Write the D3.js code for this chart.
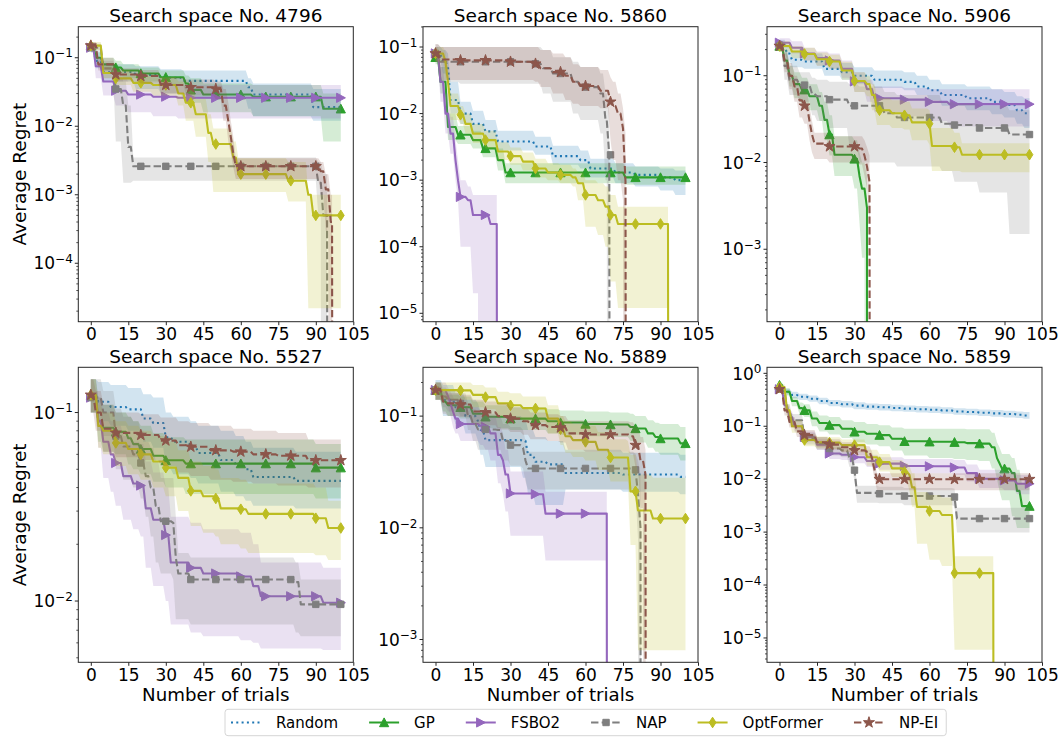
<!DOCTYPE html>
<html><head><meta charset="utf-8">
<script src="https://cdn.jsdelivr.net/npm/d3@7"></script>
<style>body{margin:0;background:#fff} svg text{font-family:"DejaVu Sans",sans-serif;fill:#000}</style>
</head><body><svg id="c" width="1063" height="738"></svg>
<script>
// ---------- data ----------
const methods = ["Random","GP","FSBO2","NAP","OptFormer","NP-EI"];
const panelIds = [4796, 5860, 5906, 5527, 5889, 5859];
const yExtents = [[-4.853,-0.547],[-5.126,-0.695],[-3.835,-0.435],[-2.325,-0.76],[-3.204,-0.563],[-5.46,0.114]];
const yTickExps = [[-1,-2,-3,-4],[-1,-2,-3,-4,-5],[-1,-2,-3],[-1,-2],[-1,-2,-3],[0,-1,-2,-3,-4,-5]];
const xTicks = [0,15,30,45,60,75,90,105];
const xDomain = [-5,105];
const markerTrials = [0,10,20,30,40,50,60,70,80,90,100];
// each series: [trial, mean, lower, upper] change points (step curve); 0 = regret reached zero

const s4796 = {
 Random:[[0,.14,.12,.165],[2,.09,.07,.12],[5,.062,.045,.08],[18,.056,.035,.075],[28,.051,.03,.068],[37,.046,.025,.065],[63,.037,.018,.05],[65,.029,.014,.042],[89,.019,.012,.035]],
 GP:[[0,.15,.13,.17],[2,.1,.08,.12],[5,.08,.065,.1],[10,.072,.058,.09],[13,.065,.05,.08],[20,.059,.045,.072],[28,.052,.04,.065],[38,.042,.03,.055],[40,.034,.022,.05],[45,.029,.016,.042],[65,.027,.014,.04],[93,.018,.006,.03]],
 FSBO2:[[0,.14,.12,.16],[2,.075,.05,.1],[5,.045,.028,.07],[10,.033,.02,.05],[15,.029,.016,.045],[25,.027,.014,.042],[35,.026,.013,.04]],
 NAP:[[0,.14,.12,.16],[5,.07,.05,.09],[10,.035,.006,.06],[13,.02,.0015,.045],[15,.005,.0015,.02],[17,.0026,.0016,.0035],[91,.0015,.0005,.003],[93,.0005,0,.002],[95.5,0,0,0]],
 OptFormer:[[0,.15,.13,.17],[5,.06,.05,.075],[10,.05,.04,.065],[17,.043,.032,.055],[25,.04,.028,.052],[35,.03,.02,.045],[38,.022,.012,.035],[42,.015,.007,.025],[47,.008,.003,.015],[49,.0055,.0011,.0093],[57,.0035,.0011,.006],[59,.002,.0011,.0034],[79,.0016,.0008,.003],[87,.001,.000022,.001],[89,.0005,.000022,.001]],
 "NP-EI":[[0,.15,.13,.17],[3,.08,.065,.1],[10,.057,.045,.07],[20,.054,.042,.066],[28,.04,.03,.052],[38,.037,.028,.048],[50,.035,.025,.045],[53,.02,.012,.035],[55,.012,.006,.022],[56,.007,.004,.012],[57,.004,.0025,.007],[58,.0026,.0017,.0034],[92,.0022,.001,.003],[94,.0012,.0003,.002],[96,.0004,0,.001],[97.5,0,0,0]]
};
const s5860 = {
 Random:[[0,.077,.06,.1],[3,.06,.04,.09],[5,.05,.03,.08],[6,.016,.01,.03],[10,.01,.007,.015],[15,.007,.005,.011],[20,.0054,.004,.008],[25,.0038,.0028,.0055],[40,.0032,.0024,.0045],[47,.0023,.0017,.0033],[58,.002,.0015,.0028],[62,.0015,.0011,.0021],[72,.0013,.0009,.0018],[80,.0012,.0008,.0016],[90,.0011,.0007,.0015],[96,.001,.0006,.0014]],
 GP:[[0,.07,.055,.09],[2,.03,.02,.05],[5,.0063,.004,.01],[9,.0048,.0035,.0065],[15,.004,.003,.0055],[19,.003,.0022,.0042],[25,.002,.0014,.003],[28,.0013,.0009,.0018],[76,.0011,.00085,.0016]],
 FSBO2:[[0,.08,.06,.1],[2,.03,.015,.05],[4,.01,.005,.02],[6,.005,.0025,.009],[8,.002,.001,.004],[9,.001,.0005,.002],[10,.00056,.0001,.001],[13,.0005,.0001,.0008],[15,.0003,.00002,.0006],[18,.0003,0,.0006],[22,.00022,0,.0006],[25.5,0,0,0]],
 NAP:[[0,.08,.06,.11],[2,.06,.03,.1],[10,.06,.028,.1],[40,.056,.028,.1],[43,.048,.02,.09],[47,.04,.015,.07],[55,.03,.01,.06],[58,.025,.008,.05],[66,.02,.005,.04],[68,.008,.001,.02],[69.5,.0024,0,.01],[70.5,0,0,0]],
 OptFormer:[[0,.08,.06,.1],[4,.06,.035,.085],[5,.03,.015,.05],[6,.013,.008,.02],[10,.0096,.007,.013],[12,.007,.005,.01],[15,.005,.0036,.007],[20,.004,.003,.0055],[25,.0027,.002,.0037],[30,.0023,.0017,.0031],[35,.0019,.0014,.0026],[40,.0015,.0011,.0021],[45,.0013,.001,.0018],[50,.0012,.0009,.0017],[55,.0011,.0008,.0015],[57,.0009,.0005,.0013],[60,.0006,.0002,.001],[65,.0005,.00015,.0009],[68,.0004,.0001,.0008],[70,.0003,.00003,.0006],[73,.00022,.000012,.0004],[94,0,0,0]],
 "NP-EI":[[0,.08,.06,.11],[2,.065,.032,.1],[10,.063,.032,.1],[30,.06,.032,.1],[40,.056,.03,.1],[42,.048,.025,.09],[47,.042,.02,.08],[52,.037,.016,.07],[55,.03,.014,.055],[58,.026,.013,.05],[66,.022,.012,.045],[70,.015,.004,.035],[71,.013,.002,.03],[73,.01,.001,.02],[75,.006,.0005,.012],[76,.00095,0,.005],[77,0,0,0]]
};
const s5906 = {
 Random:[[0,.23,.2,.26],[3,.18,.15,.22],[5,.153,.125,.19],[10,.146,.12,.18],[18,.12,.1,.15],[25,.11,.09,.14],[30,.1,.08,.125],[38,.09,.072,.115],[50,.085,.068,.11],[55,.075,.06,.1],[60,.068,.052,.09],[65,.06,.045,.08],[75,.055,.04,.075],[85,.05,.036,.07],[90,.046,.033,.065],[95,.04,.028,.058],[98,.037,.025,.055]],
 GP:[[0,.22,.19,.25],[2,.15,.12,.19],[4,.1,.075,.13],[6,.08,.055,.11],[9,.069,.045,.095],[12,.058,.04,.08],[16,.045,.03,.065],[18,.031,.018,.05],[20,.021,.012,.035],[22,.0123,.007,.02],[30,.011,.005,.018],[32,.007,.002,.013],[33,.005,.0008,.01],[35,.003,0,.007],[35.5,0,0,0]],
 FSBO2:[[0,.24,.21,.27],[5,.21,.18,.25],[10,.18,.15,.21],[15,.16,.13,.19],[20,.15,.12,.18],[25,.12,.095,.15],[30,.086,.065,.11],[35,.07,.05,.09],[38,.055,.038,.075],[50,.053,.034,.072],[60,.05,.03,.07],[68,.047,.026,.07]],
 NAP:[[0,.22,.19,.25],[2,.13,.09,.18],[4,.09,.06,.13],[8,.078,.05,.11],[13,.062,.035,.095],[15,.058,.03,.09],[20,.053,.025,.085],[28,.045,.015,.08],[32,.045,.01,.075],[42,.037,.01,.065],[47,.033,.009,.06],[57,.033,.009,.06],[65,.028,.008,.05],[70,.027,.006,.048],[80,.025,.0045,.045],[92,.021,.0015,.04]],
 OptFormer:[[0,.22,.19,.25],[5,.19,.16,.22],[10,.178,.15,.21],[15,.155,.13,.185],[20,.146,.12,.175],[25,.115,.09,.145],[30,.087,.065,.11],[35,.08,.058,.1],[37,.06,.04,.08],[39,.04,.027,.055],[45,.037,.025,.052],[50,.035,.024,.05],[53,.029,.018,.042],[60,.028,.016,.04],[61,.0155,.008,.025],[70,.015,.008,.022],[73,.0123,.0077,.0167]],
 "NP-EI":[[0,.22,.19,.25],[2,.15,.11,.19],[4,.1,.07,.14],[6,.075,.05,.1],[8,.052,.033,.075],[10,.045,.028,.065],[12,.03,.018,.045],[13,.021,.013,.03],[14,.0165,.011,.022],[20,.0153,.01,.02],[32,.0145,.0095,.02],[34,.012,.007,.018],[35,.009,.005,.015],[36,.006,.002,.012],[37,0,0,0]]
};
const s5527 = {
 Random:[[0,.124,.1,.15],[3,.114,.09,.145],[8,.107,.085,.14],[15,.104,.08,.135],[21,.093,.07,.125],[25,.088,.065,.12],[30,.074,.05,.1],[33,.07,.047,.095],[40,.066,.045,.09],[43,.061,.042,.085],[52,.056,.038,.08],[58,.053,.036,.075],[62,.05,.034,.07],[65,.0455,.032,.065],[82,.0434,.031,.062]],
 GP:[[0,.124,.1,.15],[3,.09,.07,.12],[5,.083,.062,.11],[10,.079,.06,.1],[15,.073,.053,.095],[17,.068,.05,.09],[20,.064,.047,.085],[25,.059,.043,.078],[30,.0558,.04,.074],[38,.0536,.037,.072],[90,.051,.035,.068]],
 FSBO2:[[0,.12,.1,.15],[3,.09,.065,.12],[5,.07,.045,.1],[8,.06,.038,.09],[10,.054,.032,.085],[13,.046,.027,.075],[17,.042,.024,.07],[20,.041,.022,.068],[22,.031,.015,.055],[25,.027,.012,.048],[30,.0224,.01,.04],[32,.016,.0075,.028],[40,.015,.0068,.026],[45,.014,.0065,.024],[60,.0135,.0062,.023],[65,.012,.006,.02],[68,.0106,.0056,.016],[93,.0098,.0055,.015]],
 NAP:[[0,.12,.1,.15],[5,.1,.075,.13],[10,.075,.05,.105],[13,.066,.044,.095],[17,.06,.04,.09],[20,.054,.035,.08],[22,.046,.028,.07],[24,.04,.022,.065],[26,.032,.016,.055],[28,.0265,.014,.045],[33,.026,.013,.045],[34,.017,.008,.028],[35,.014,.008,.018],[40,.013,.0075,.017],[82,.0126,.0068,.016],[84,.0096,.0065,.013]],
 OptFormer:[[0,.124,.1,.15],[3,.085,.065,.11],[5,.08,.06,.1],[10,.069,.052,.09],[15,.064,.047,.085],[20,.06,.044,.08],[25,.055,.04,.075],[30,.051,.036,.07],[35,.045,.03,.063],[40,.0384,.025,.055],[45,.036,.023,.052],[50,.035,.022,.05],[52,.031,.02,.045],[60,.0307,.019,.044],[63,.029,.018,.042],[90,.0275,.0175,.04],[95,.0244,.0165,.034]],
 "NP-EI":[[0,.124,.1,.15],[2,.1,.08,.13],[5,.082,.062,.11],[10,.078,.058,.1],[20,.076,.056,.098],[28,.071,.052,.094],[35,.067,.048,.09],[40,.0658,.046,.088],[48,.063,.044,.085],[57,.062,.043,.082],[65,.06,.042,.08],[75,.059,.041,.078],[87,.0558,.04,.072]]
};
const s5889 = {
 Random:[[0,.171,.14,.21],[3,.14,.1,.19],[8,.12,.085,.16],[12,.1,.07,.14],[17,.09,.06,.13],[18,.075,.045,.11],[20,.061,.035,.1],[35,.06,.028,.095],[37,.045,.02,.075],[40,.039,.016,.065],[45,.037,.016,.06],[52,.031,.022,.05],[75,.03,.021,.047],[98,.0286,.02,.045]],
 GP:[[0,.171,.14,.2],[3,.135,.11,.165],[5,.125,.1,.155],[10,.12,.095,.15],[15,.105,.083,.135],[20,.0986,.078,.125],[30,.095,.075,.12],[45,.09,.07,.115],[50,.0877,.068,.112],[60,.085,.066,.11],[70,.084,.065,.108],[78,.08,.06,.105],[80,.0775,.058,.1],[85,.07,.052,.092],[88,.065,.048,.087],[90,.063,.045,.085],[98,.057,.04,.08]],
 FSBO2:[[0,.171,.14,.2],[5,.15,.12,.18],[6,.13,.1,.165],[7,.11,.08,.15],[8,.095,.07,.13],[10,.085,.06,.12],[18,.082,.055,.11],[20,.08,.05,.105],[22,.07,.04,.1],[25,.045,.025,.08],[27,.04,.02,.07],[28,.03,.014,.05],[30,.0203,.0085,.032],[40,.02,.0085,.032],[44,.0134,.0051,.021],[69.5,0,0,0]],
 NAP:[[0,.171,.14,.2],[3,.15,.12,.18],[5,.14,.11,.17],[10,.13,.1,.16],[13,.1,.075,.13],[15,.085,.06,.115],[17,.076,.05,.105],[25,.075,.05,.1],[27,.06,.04,.085],[30,.055,.036,.08],[35,.052,.034,.075],[36,.04,.026,.06],[37,.034,.022,.048],[80,.033,.021,.046],[81,.02,.008,.04],[82,.01,0,.03],[82.5,0,0,0]],
 OptFormer:[[0,.171,.14,.2],[10,.17,.14,.2],[15,.155,.12,.19],[20,.148,.115,.18],[25,.13,.1,.165],[30,.125,.095,.16],[35,.118,.09,.15],[40,.117,.088,.15],[45,.095,.07,.125],[50,.0764,.055,.1],[52,.066,.047,.09],[55,.061,.043,.085],[60,.0588,.04,.082],[65,.05,.033,.072],[70,.0426,.026,.062],[77,.0426,.026,.06],[78,.0212,.007,.045],[81,.0143,.0008,.03],[87,.0121,.0008,.028]],
 "NP-EI":[[0,.171,.14,.2],[3,.135,.105,.165],[5,.13,.1,.16],[10,.127,.098,.155],[15,.11,.085,.14],[20,.108,.083,.135],[25,.1,.076,.13],[30,.095,.072,.12],[35,.09,.068,.115],[38,.083,.062,.108],[45,.08,.06,.104],[50,.079,.058,.1],[53,.07,.05,.092],[60,.0685,.048,.09],[78,.066,.046,.088],[80,.055,.035,.08],[82,.04,.015,.065],[84,.03,0,.05],[85,0,0,0]]
};
const s5859 = {
 Random:[[0,.55,.5,.62],[2,.45,.4,.51],[5,.39,.34,.45],[8,.36,.315,.41],[12,.33,.29,.38],[16,.3,.26,.345],[20,.275,.24,.315],[25,.26,.225,.3],[30,.245,.21,.285],[35,.235,.205,.27],[40,.228,.198,.262],[45,.222,.193,.255],[50,.215,.187,.248],[55,.21,.182,.242],[60,.205,.178,.236],[65,.198,.172,.228],[70,.19,.165,.22],[75,.186,.161,.214],[80,.18,.156,.208],[85,.175,.152,.202],[90,.17,.147,.196],[95,.165,.143,.19],[98,.16,.139,.185]],
 GP:[[0,.6,.52,.68],[2,.45,.38,.52],[5,.3,.24,.36],[8,.22,.17,.28],[10,.2,.15,.26],[13,.14,.1,.19],[16,.115,.08,.16],[20,.105,.07,.15],[25,.09,.06,.13],[30,.0785,.05,.12],[35,.072,.045,.11],[40,.068,.042,.105],[45,.058,.035,.095],[50,.052,.028,.09],[60,.051,.025,.09],[70,.05,.024,.09],[75,.048,.023,.088],[80,.047,.022,.088],[85,.04,.016,.075],[87,.025,.01,.05],[88,.02,.006,.04],[89,.0158,.004,.03],[93,.013,.002,.025],[95,.006,.0012,.015],[97,.0031,.0012,.008]],
 FSBO2:[[0,.5,.45,.55],[2,.25,.2,.3],[4,.15,.12,.19],[6,.1,.08,.13],[10,.063,.05,.08],[15,.045,.036,.057],[20,.0305,.024,.04],[25,.029,.023,.038],[30,.026,.02,.034],[35,.022,.017,.029],[40,.0197,.015,.026],[50,.0178,.013,.024],[60,.0175,.013,.024],[70,.0166,.012,.023],[75,.013,.009,.019],[80,.0102,.0068,.015],[90,.0095,.0062,.014],[95,.0082,.0052,.012]],
 NAP:[[0,.5,.45,.55],[3,.2,.15,.26],[5,.13,.1,.17],[10,.059,.045,.075],[15,.048,.036,.062],[20,.038,.028,.05],[25,.035,.026,.046],[28,.025,.017,.035],[30,.0148,.009,.022],[31,.0055,.0036,.0075],[40,.0053,.0035,.0072],[50,.0048,.0032,.0068],[70,.0046,.0031,.0066],[71,.0018,.00098,.0029]],
 OptFormer:[[0,.55,.5,.62],[3,.2,.15,.26],[5,.1,.075,.13],[10,.055,.042,.07],[15,.05,.038,.064],[20,.049,.037,.062],[25,.044,.033,.056],[30,.044,.032,.056],[35,.026,.018,.036],[40,.021,.014,.03],[45,.016,.011,.023],[50,.0137,.009,.02],[52,.012,.006,.018],[53,.007,.003,.013],[55,.003,.0006,.0057],[60,.0025,.0003,.005],[65,.0021,.00023,.0045],[70,.000168,.000006,.00035],[86.5,0,0,0]],
 "NP-EI":[[0,.5,.45,.55],[2,.2,.16,.25],[4,.12,.095,.15],[7,.08,.063,.1],[10,.068,.053,.085],[15,.05,.04,.063],[20,.045,.036,.057],[25,.04,.032,.05],[30,.035,.028,.044],[35,.033,.026,.042],[37,.025,.018,.033],[38,.015,.01,.02],[39,.01,.0062,.013]]
};
const panelData = [s4796, s5860, s5906, s5527, s5889, s5859];

// ---------- styles / layout ----------
const colors = {Random:"#1f77b4",GP:"#2ca02c",FSBO2:"#9467bd",NAP:"#7f7f7f",OptFormer:"#bcbd22","NP-EI":"#8c564b"};
const dashes = {Random:"2,3.3",NAP:"7.4,3.2","NP-EI":"7.4,3.2"};
const markerPath = {
  Random:null,
  GP:"M0,-4.6L4.6,4.2L-4.6,4.2Z",
  FSBO2:"M4.6,0L-4.2,-4.6L-4.2,4.6Z",
  NAP:"M-3.2,-3.2H3.2V3.2H-3.2Z",
  OptFormer:"M0,-5.3L3.4,0L0,5.3L-3.4,0Z",
  "NP-EI":d3.symbol(d3.symbolStar, 38)()
};
const W = 275, H = 295;
const lefts = [78.3, 423, 767], tops = [26.7, 367.3];
const svg = d3.select("#c");
const axisColor = "#262626";

function expand(pts){
  const out=[];
  pts.forEach((p,i)=>{
    if(i>0){const q=pts[i-1]; const xt=p[0]-1; if(xt>q[0]) out.push([xt,q[1],q[2],q[3]]);}
    out.push(p);
  });
  const last=out[out.length-1];
  if(last[0]<100) out.push([100,last[1],last[2],last[3]]);
  return out;
}
function valueAt(pts,t){ let v=null; pts.forEach(p=>{ if(p[0]<=t) v=p[1]; }); return v; }

panelIds.forEach((id,pi)=>{
  const col = pi%3, row = Math.floor(pi/3);
  const X0 = lefts[col], Y0 = tops[row];
  const g = svg.append("g").attr("transform",`translate(${X0},${Y0})`);
  const x = d3.scaleLinear().domain(xDomain).range([0,W]);
  const [lmin,lmax] = yExtents[pi];
  const y = d3.scaleLog().domain([Math.pow(10,lmin),Math.pow(10,lmax)]).range([H,0]);
  const floorV = Math.pow(10,lmin-30);
  const yv = v => y(Math.max(v,floorV));

  const cid = "clip"+id;
  g.append("clipPath").attr("id",cid).append("rect").attr("width",W).attr("height",H);
  const plot = g.append("g").attr("clip-path",`url(#${cid})`);

  const data = panelData[pi];
  methods.forEach(m=>{
    const pts = data[m]; const ex = expand(pts);
    plot.append("path").datum(ex)
      .attr("d", d3.area().x(d=>x(d[0])).y0(d=>yv(d[2])).y1(d=>yv(d[3])))
      .attr("fill", colors[m]).attr("fill-opacity",0.2).attr("stroke","none");
    plot.append("path").datum(ex)
      .attr("d", d3.line().x(d=>x(d[0])).y(d=>yv(d[1])))
      .attr("fill","none").attr("stroke",colors[m]).attr("stroke-width",2.1)
      .attr("stroke-linejoin","round")
      .attr("stroke-dasharray", dashes[m]||null);
    if(markerPath[m]){
      markerTrials.forEach(t=>{
        const v = valueAt(pts,t);
        if(!v || v<=0) return;
        plot.append("path").attr("d",markerPath[m])
          .attr("transform",`translate(${x(t)},${y(v)})`)
          .attr("fill",colors[m]).attr("stroke",colors[m]).attr("stroke-width",1);
      });
    }
  });

  // frame
  g.append("rect").attr("width",W).attr("height",H).attr("fill","none")
    .attr("stroke",axisColor).attr("stroke-width",1);

  // x axis
  const xa = g.append("g").attr("transform",`translate(0,${H})`)
    .call(d3.axisBottom(x).tickValues(xTicks).tickSize(3.5).tickSizeOuter(0).tickPadding(2.7).tickFormat(d3.format("d")));
  xa.select(".domain").remove();
  xa.selectAll("line").attr("stroke",axisColor);
  xa.selectAll("text").style("font-size","17px").style("font-family","DejaVu Sans").attr("fill","#000");

  // y ticks: minor
  const kmin = Math.floor(lmin), kmax = Math.ceil(lmax);
  for(let k=kmin;k<=kmax;k++){
    for(let mm=2;mm<=9;mm++){
      const v = mm*Math.pow(10,k); const lv = Math.log10(v);
      if(lv<lmin||lv>lmax) continue;
      g.append("line").attr("x1",-2).attr("x2",0).attr("y1",y(v)).attr("y2",y(v))
        .attr("stroke",axisColor).attr("stroke-width",0.8);
    }
  }
  // y ticks: major
  yTickExps[pi].forEach(e=>{
    const v = Math.pow(10,e); const yy = y(v);
    g.append("line").attr("x1",-3.5).attr("x2",0).attr("y1",yy).attr("y2",yy)
      .attr("stroke",axisColor).attr("stroke-width",1);
    const t = g.append("text").attr("x",-5.5).attr("y",yy+6.2).attr("text-anchor","end")
      .style("font-size","17px");
    t.append("tspan").text("10");
    t.append("tspan").attr("dy",-6.5).style("font-size","12px").text(e===0?"0":"\u2212"+(-e));
  });

  // title
  g.append("text").attr("x",W/2).attr("y",-4.8).attr("text-anchor","middle")
    .style("font-size","18.5px").text("Search space No. "+id);

  if(col===0){
    svg.append("text").attr("transform",`translate(26,${Y0+H/2}) rotate(-90)`)
      .attr("text-anchor","middle").style("font-size","18.5px").text("Average Regret");
  }
  if(row===1){
    svg.append("text").attr("x",X0+W/2).attr("y",701).attr("text-anchor","middle")
      .style("font-size","18.2px").text("Number of trials");
  }
});

// ---------- legend ----------
const lg = svg.append("g");
const ly = 722.5;
let lx = 231;
methods.forEach(m=>{
  lg.append("line").attr("x1",lx).attr("x2",lx+30).attr("y1",ly).attr("y2",ly)
    .attr("stroke",colors[m]).attr("stroke-width",2).attr("stroke-dasharray",dashes[m]||null);
  if(markerPath[m]) lg.append("path").attr("d",markerPath[m]).attr("transform",`translate(${lx+15},${ly})`)
    .attr("fill",colors[m]).attr("stroke",colors[m]).attr("stroke-width",1);
  const t = lg.append("text").attr("x",lx+45).attr("y",ly+5.5).style("font-size","15px").text(m);
  const w = t.node().getComputedTextLength();
  lx = lx+45+w+31;
});
lg.insert("rect",":first-child").attr("x",225).attr("y",709.3).attr("width",(lx-31+8)-225).attr("height",26.4)
  .attr("rx",3).attr("fill","#fff").attr("fill-opacity",0.8).attr("stroke","#d6d6d6").attr("stroke-width",1);
</script></body></html>
